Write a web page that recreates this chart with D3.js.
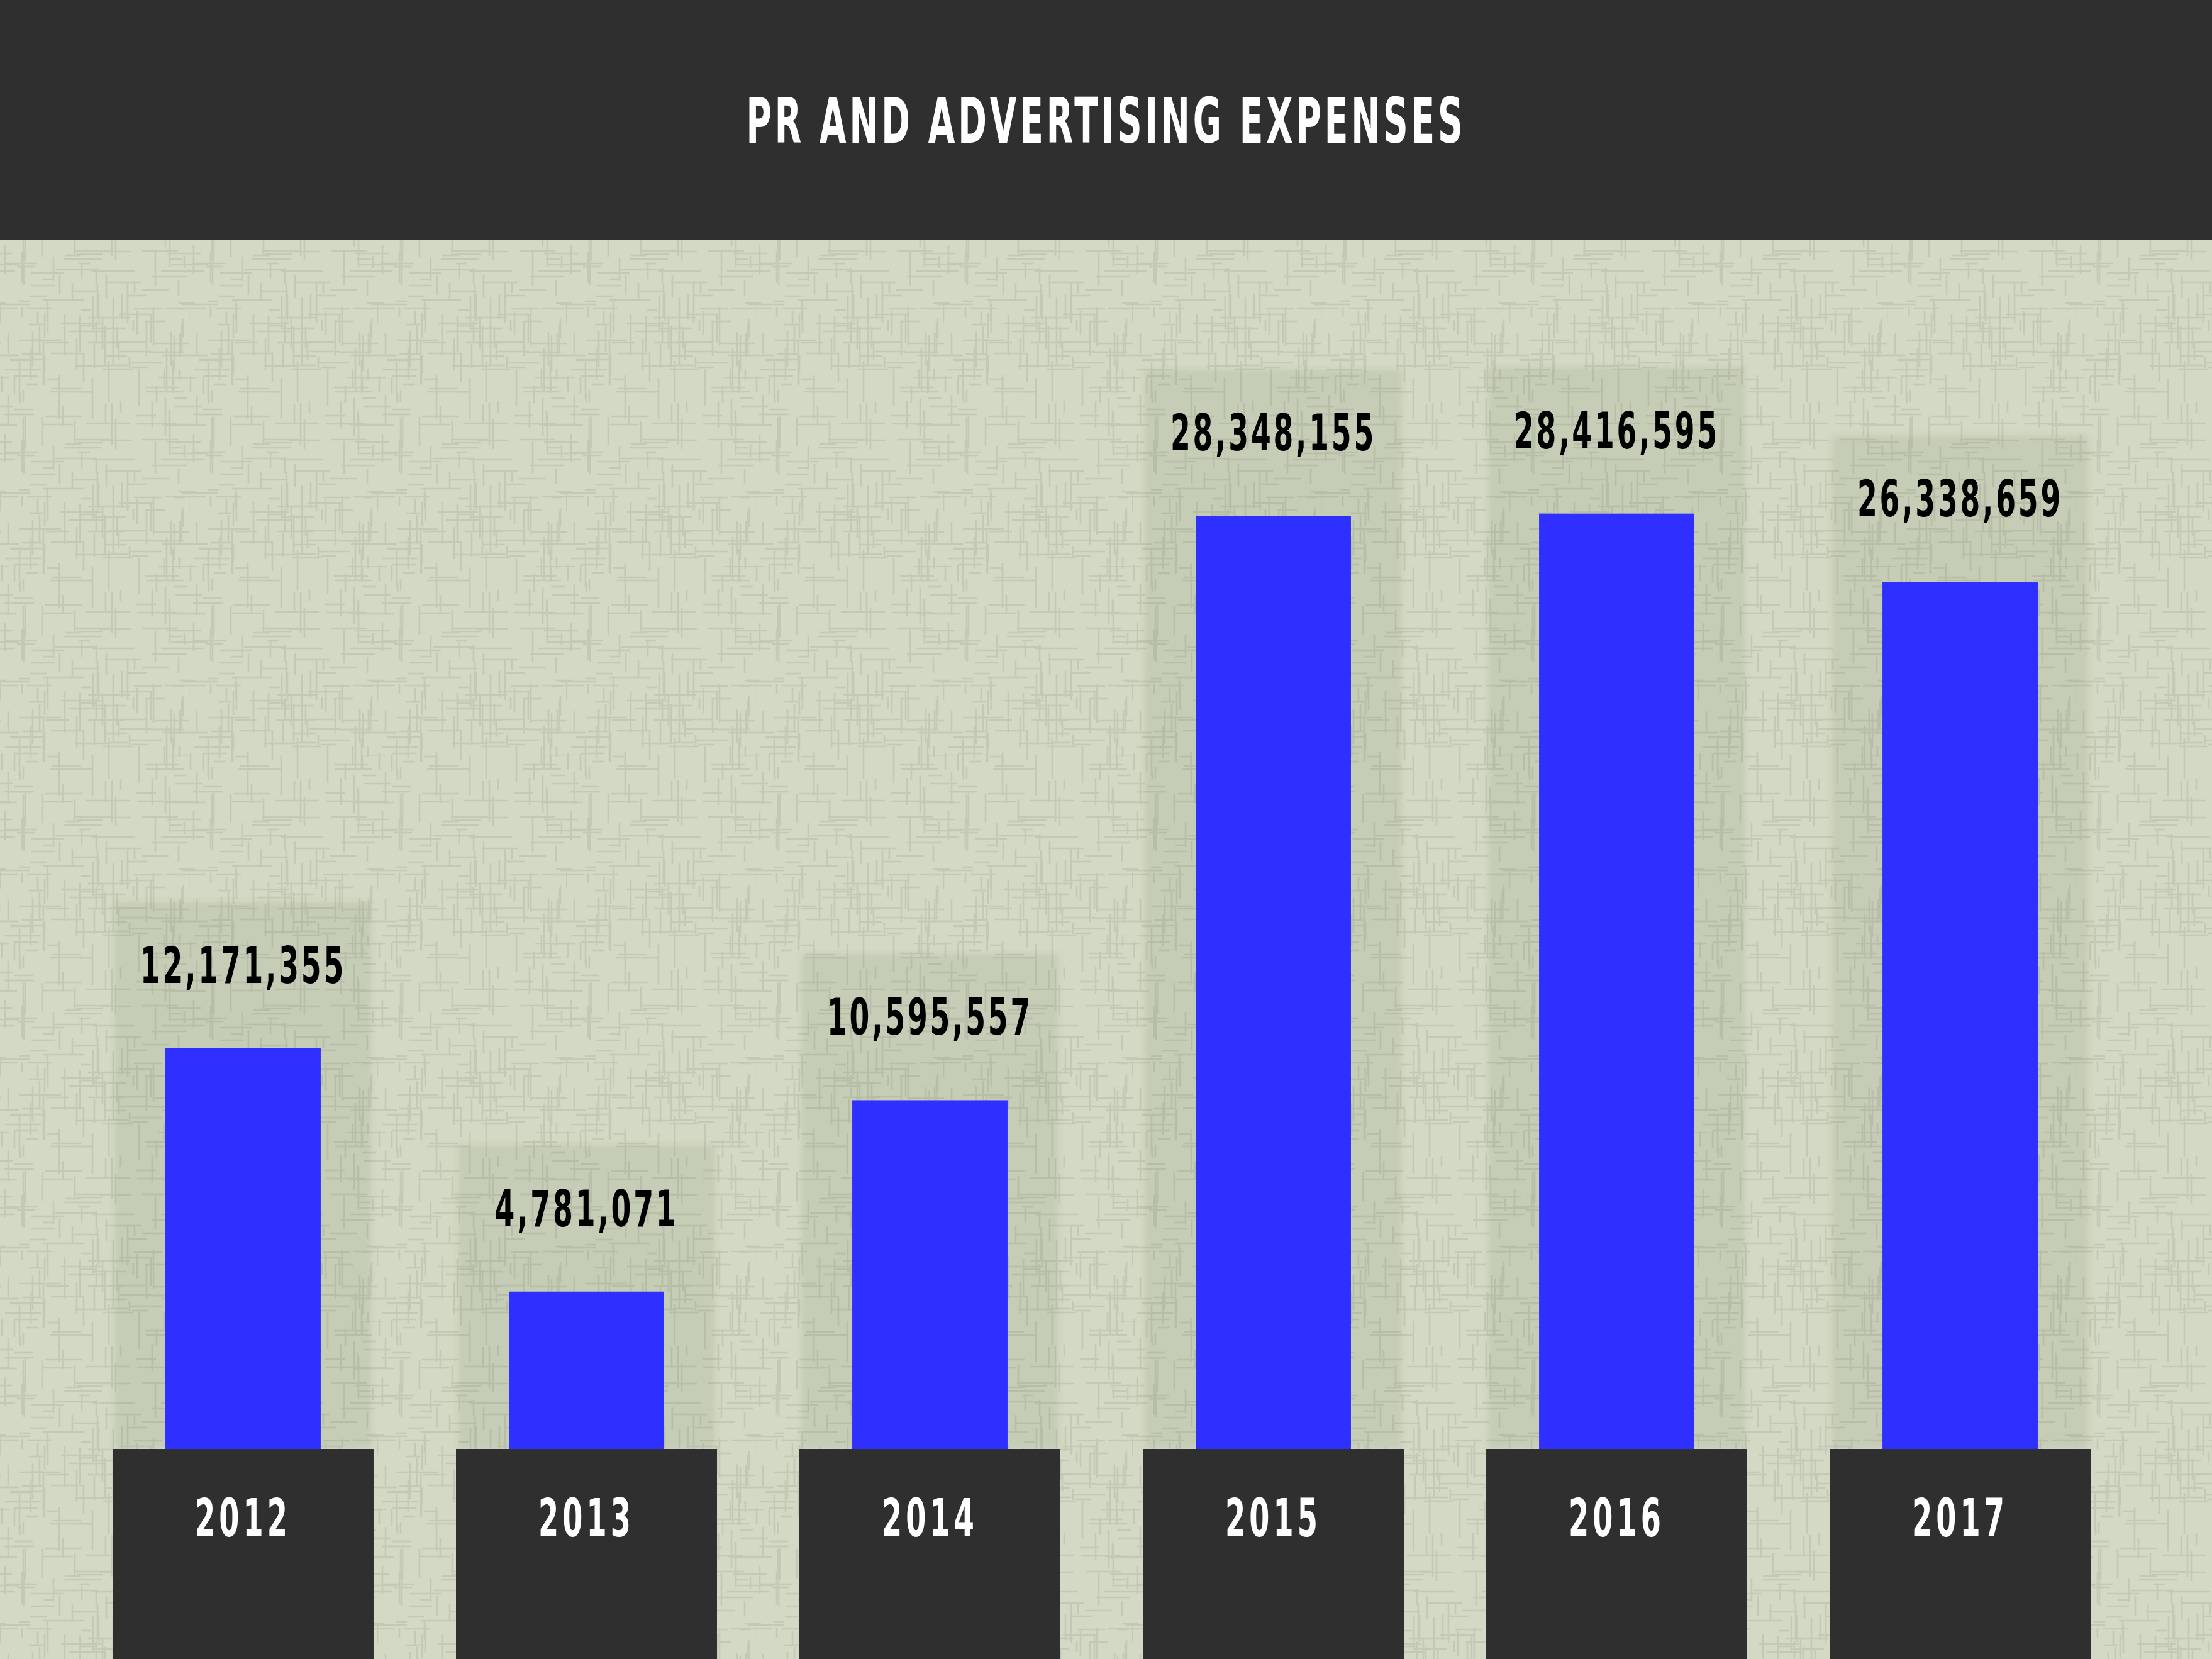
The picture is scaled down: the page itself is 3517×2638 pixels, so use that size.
<!DOCTYPE html>
<html>
<head>
<meta charset="utf-8">
<script src="https://cdn.jsdelivr.net/npm/d3@7.9.0/dist/d3.min.js"></script>
<style>
  html, body { margin: 0; padding: 0; background: #d3d9c5; }
  svg { display: block; }
  text { font-family: "DejaVu Sans Condensed", "Liberation Sans Narrow", "Roboto", sans-serif; font-weight: bold; }
</style>
</head>
<body>
<svg id="chart"></svg>
<script>
const title = 'PR AND ADVERTISING EXPENSES';
const years = ['2012', '2013', '2014', '2015', '2016', '2017'];
const expenses = [12171355, 4781071, 10595557, 28348155, 28416595, 26338659];

const W = 3517, H = 2638;
const headerH = 382;
const baseY = 2304;

const svg = d3.select('#chart').attr('width', W).attr('height', H);
const defs = svg.append('defs');

// woven background texture (deterministic tile)
const tile = 300;
const pat = defs.append('pattern').attr('id', 'weave')
  .attr('patternUnits', 'userSpaceOnUse').attr('width', tile).attr('height', tile);
pat.append('rect').attr('width', tile).attr('height', tile).attr('fill', '#d3d9c5');
let seed = 7;
const rnd = () => { seed = (seed * 16807) % 2147483647; return seed / 2147483647; };
const segs = [];
for (let i = 0; i < 170; i++) {
  const horiz = i % 2 === 0;
  const a = Math.round(rnd() * tile), b = Math.round(rnd() * tile), len = 15 + Math.round(rnd() * 55);
  [0, -tile].forEach(off => segs.push(horiz
    ? { x1: b + off, y1: a, x2: b + off + len, y2: a }
    : { x1: a, y1: b + off, x2: a, y2: b + off + len }));
}
pat.selectAll('line').data(segs).join('line')
  .attr('x1', d => d.x1).attr('y1', d => d.y1).attr('x2', d => d.x2).attr('y2', d => d.y2)
  .attr('stroke', '#c3c9b4').attr('stroke-width', 2.6);

defs.append('filter').attr('id', 'soft').attr('x', '-10%').attr('y', '-10%').attr('width', '120%').attr('height', '120%')
  .append('feGaussianBlur').attr('stdDeviation', 4);

svg.append('rect').attr('width', W).attr('height', H).attr('fill', 'url(#weave)');

// header
svg.append('rect').attr('width', W).attr('height', headerH).attr('fill', '#2f2f2f');
svg.append('text').attr('x', W / 2).attr('y', 227).attr('text-anchor', 'middle')
  .attr('font-size', 100).attr('letter-spacing', 8).attr('fill', '#ffffff')
  .attr('textLength', 1144).attr('lengthAdjust', 'spacingAndGlyphs')
  .text(title);

const x = d3.scaleBand().domain(years).range([179, 3324]).paddingInner(0.24).paddingOuter(0);
const y = d3.scaleLinear().domain([0, 30e6]).range([baseY, baseY - 30 * 52.34]);
const barW = x.bandwidth() * 0.595;
const fmt = d3.format(',');
const data = years.map((yr, i) => ({ yr, v: expenses[i] }));

// soft shadow panels behind each bar
svg.append('g').selectAll('rect').data(data).join('rect')
  .attr('x', d => x(d.yr) + 3).attr('y', d => y(d.v) - 233)
  .attr('width', x.bandwidth() - 6).attr('height', d => baseY - y(d.v) + 233)
  .attr('fill', 'rgba(80,88,60,0.10)').attr('filter', 'url(#soft)');

// bars
svg.append('g').selectAll('rect').data(data).join('rect')
  .attr('x', d => x(d.yr) + (x.bandwidth() - barW) / 2).attr('y', d => y(d.v))
  .attr('width', barW).attr('height', d => baseY - y(d.v))
  .attr('fill', '#2f2fff');

// value labels
const labW = s => s.split('').reduce((t, c) => t + (c === ',' ? 23.5 : 35), 0);
svg.append('g').selectAll('text').data(data).join('text')
  .attr('x', d => x(d.yr) + x.bandwidth() / 2).attr('y', d => y(d.v) - 104)
  .attr('text-anchor', 'middle').attr('font-size', 80).attr('letter-spacing', 6).attr('fill', '#000')
  .attr('textLength', d => labW(fmt(d.v))).attr('lengthAdjust', 'spacingAndGlyphs')
  .text(d => fmt(d.v));

// year boxes
const axis = svg.append('g');
axis.selectAll('rect').data(years).join('rect')
  .attr('x', d => x(d)).attr('y', baseY).attr('width', x.bandwidth()).attr('height', H - baseY)
  .attr('fill', '#2f2f2f');
axis.selectAll('text').data(years).join('text')
  .attr('x', d => x(d) + x.bandwidth() / 2).attr('y', 2443)
  .attr('text-anchor', 'middle').attr('font-size', 84).attr('letter-spacing', 10).attr('fill', '#ffffff')
  .attr('textLength', 153).attr('lengthAdjust', 'spacingAndGlyphs')
  .text(d => d);
</script>
</body>
</html>
